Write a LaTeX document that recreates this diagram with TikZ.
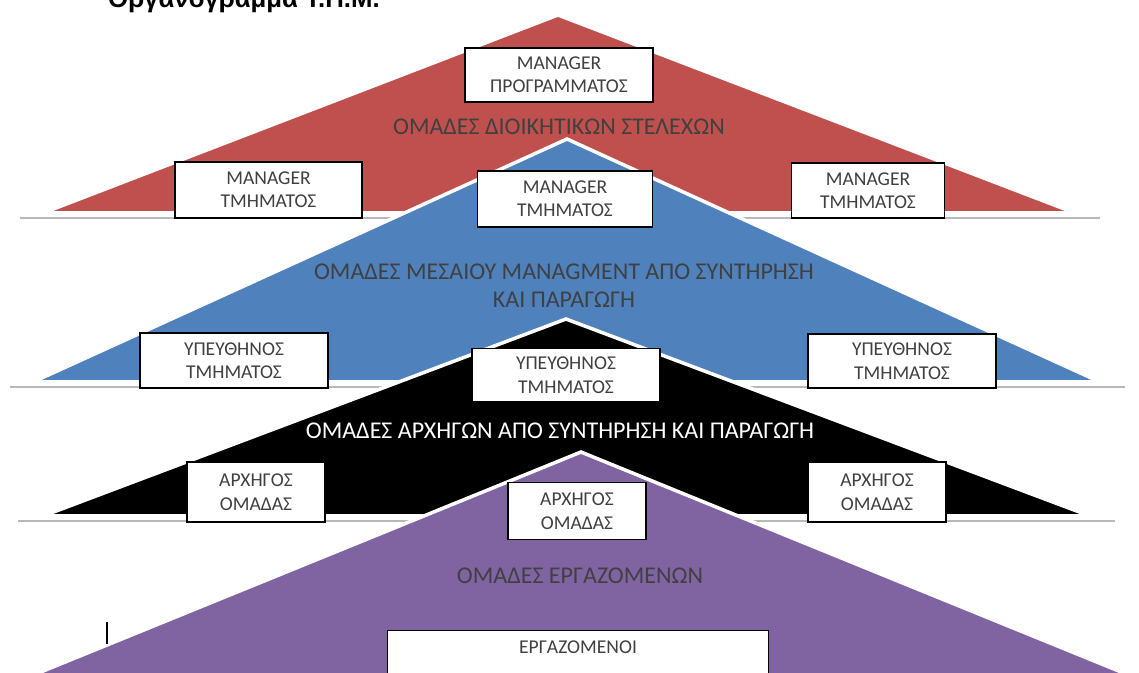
\documentclass[tikz,border=0pt]{standalone}
\usepackage{fontspec}
\setmainfont{Carlito}
\newfontfamily\titlefont{Liberation Sans}
\definecolor{ored}{HTML}{C0504D}
\definecolor{oblue}{HTML}{4F81BD}
\definecolor{opurple}{HTML}{8064A2}
\definecolor{txt}{HTML}{404040}
\begin{document}
\begin{tikzpicture}[x=0.03cm,y=-0.03cm,
  tri/.style={draw=white,line width=3pt,line join=miter},
  shadowline/.style={draw=black!28,line width=2.4pt},
  box/.style={draw=black,line width=0.9pt,fill=white,inner sep=0pt,align=center,
    text=txt,font=\fontsize{16.7}{20}\selectfont},
  lbl/.style={text=txt,align=center,font=\fontsize{20.5}{24}\selectfont},
  wlbl/.style={text=white,align=center,font=\fontsize{20.5}{24}\selectfont}]
\useasboundingbox (0,0) rectangle (1139,673);
\fill[white] (0,0) rectangle (1139,673);
% title (partly cut at the top)
\node[anchor=base west,inner sep=0pt,font=\titlefont\bfseries\fontsize{22}{26}\selectfont] (title) at (108,7) {Οργανόγραμμα Τ.Π.Μ.};
% red level
\draw[shadowline] (20,218) -- (1100,218);
\filldraw[tri,fill=ored] (558,15) -- (1075,213) -- (43,213) -- cycle;
% blue level
\draw[shadowline] (10,387) -- (1125,387);
\filldraw[tri,fill=oblue] (567,139) -- (1100,382) -- (33,382) -- cycle;
% black level
\draw[shadowline] (18,521) -- (1115,521);
\filldraw[tri,fill=black] (566,319) -- (1090,516) -- (43,516) -- cycle;
% purple level
\filldraw[tri,fill=opurple] (581,452) -- (1136,678) -- (26,678) -- cycle;
% labels
\node[lbl] (l1) at (559,127) {ΟΜΑΔΕΣ ΔΙΟΙΚΗΤΙΚΩΝ ΣΤΕΛΕΧΩΝ};
\node[lbl] (l2) at (564,286) {ΟΜΑΔΕΣ ΜΕΣΑΙΟΥ MANAGMENT ΑΠΟ ΣΥΝΤΗΡΗΣΗ\\ΚΑΙ ΠΑΡΑΓΩΓΗ};
\node[wlbl] (l3) at (560,431) {ΟΜΑΔΕΣ ΑΡΧΗΓΩΝ ΑΠΟ ΣΥΝΤΗΡΗΣΗ ΚΑΙ ΠΑΡΑΓΩΓΗ};
\node[lbl] (l4) at (580,576) {ΟΜΑΔΕΣ ΕΡΓΑΖΟΜΕΝΩΝ};
% boxes
\node[box,minimum width=188*0.03cm,minimum height=54*0.03cm] (bp) at (559,75) {MANAGER\\ΠΡΟΓΡΑΜΜΑΤΟΣ};
\node[box,minimum width=187*0.03cm,minimum height=56*0.03cm] (bm1) at (268.5,190) {MANAGER\\ΤΜΗΜΑΤΟΣ};
\node[box,minimum width=175*0.03cm,minimum height=56*0.03cm] (bm2) at (565,199) {MANAGER\\ΤΜΗΜΑΤΟΣ};
\node[box,minimum width=153*0.03cm,minimum height=55*0.03cm] (bm3) at (868,190.5) {MANAGER\\ΤΜΗΜΑΤΟΣ};
\node[box,minimum width=188*0.03cm,minimum height=55*0.03cm] (bu1) at (234,360.5) {ΥΠΕΥΘΗΝΟΣ\\ΤΜΗΜΑΤΟΣ};
\node[box,minimum width=188*0.03cm,minimum height=53*0.03cm] (bu2) at (566,375) {ΥΠΕΥΘΗΝΟΣ\\ΤΜΗΜΑΤΟΣ};
\node[box,minimum width=188*0.03cm,minimum height=54*0.03cm] (bu3) at (902,361) {ΥΠΕΥΘΗΝΟΣ\\ΤΜΗΜΑΤΟΣ};
\node[box,minimum width=138*0.03cm,minimum height=60*0.03cm] (ba1) at (256,492) {ΑΡΧΗΓΟΣ\\ΟΜΑΔΑΣ};
\node[box,minimum width=138*0.03cm,minimum height=57*0.03cm] (ba2) at (577,511) {ΑΡΧΗΓΟΣ\\ΟΜΑΔΑΣ};
\node[box,minimum width=138*0.03cm,minimum height=60*0.03cm] (ba3) at (877,492) {ΑΡΧΗΓΟΣ\\ΟΜΑΔΑΣ};
\node[box,anchor=north west,minimum width=381*0.03cm,inner ysep=10*0.03cm,text height=0.4cm,text depth=1.2cm] (be) at (387,630) {ΕΡΓΑΖΟΜΕΝΟΙ};
% small vertical mark
\coordinate (m1) at (107,622);
\coordinate (m2) at (107,644);
\draw[line width=0.9pt] (m1) -- (m2);
\end{tikzpicture}
\end{document}
